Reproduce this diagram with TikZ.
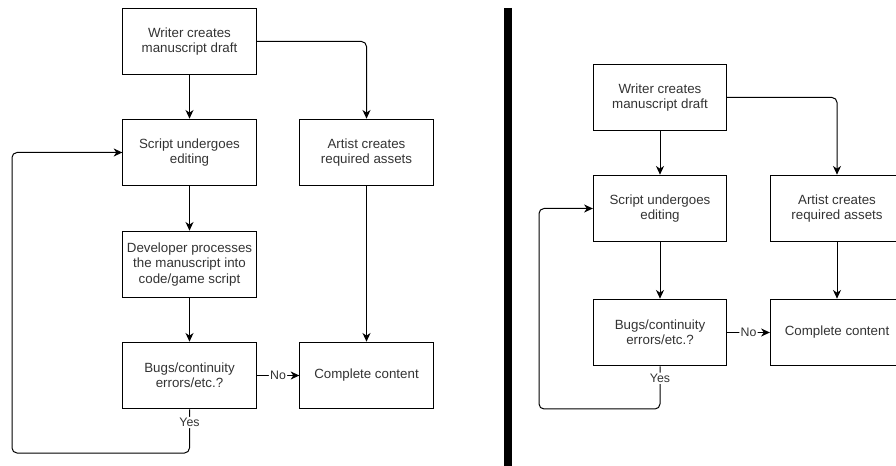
\documentclass[tikz,border=0pt]{standalone}
\usepackage{fontspec}
\setmainfont{Liberation Sans}
\usetikzlibrary{arrows.meta}
\tikzset{
  stage/.style={draw, line width=0.75pt, inner sep=0pt, minimum width=100pt, minimum height=50pt,
    align=center, text=black!80, font=\fontsize{10}{11.6}\selectfont},
  flow/.style={-{Stealth[length=6.5pt,width=6pt,inset=2pt]}, line width=0.75pt, rounded corners=3.75pt},
  lbl/.style={fill=white, inner sep=1pt, text=black!80, font=\fontsize{9.25}{10}\selectfont}
}
\def\dflow{\draw[flow]}

\begin{document}
\begin{tikzpicture}[x=0.75pt,y=-0.75pt]
                \useasboundingbox (0,0) rectangle (896,466);
                \clip (0,0) rectangle (896,466);
                % left chart
                \node[stage] (writer) at (189.5, 41.5) {Writer creates\\manuscript draft};
                \node[stage] (script) at (189.5,152.5) {Script undergoes\\editing};
                \node[stage] (dev)    at (189.5,264.5) {Developer processes\\the manuscript into\\code/game script};
                \node[stage] (bugs)   at (189.5,375.5) {Bugs/continuity\\errors/etc.?};
                \node[stage] (artist) at (366.5,152.5) {Artist creates\\required assets};
                \node[stage] (done)   at (366.5,375.5) {Complete content};
                \coordinate (loop) at (12,453);
                \dflow (writer) -- (script);
                \dflow (script) -- (dev);
                \dflow (dev) -- (bugs);
                \dflow (writer.east) -| (artist.north);
                \dflow (artist) -- (done);
                \dflow (bugs) -- node[lbl] {No} (done);
                \dflow (bugs.south) -- node[lbl,pos=0.3] {Yes} (bugs.south |- loop) -- (loop) |- (script.west);
                % divider
                \draw[line width=6pt] (508,8) -- (508,466);
                % right chart
                \node[stage] (rwriter) at (660, 97.5) {Writer creates\\manuscript draft};
                \node[stage] (rscript) at (660,208.5) {Script undergoes\\editing};
                \node[stage] (rbugs)   at (660,332.5) {Bugs/continuity\\errors/etc.?};
                \node[stage] (rartist) at (837,208.5) {Artist creates\\required assets};
                \node[stage] (rdone)   at (837,332.5) {Complete content};
                \coordinate (rloop) at (539,409);
                \dflow (rwriter) -- (rscript);
                \dflow (rscript) -- (rbugs);
                \dflow (rwriter.east) -| (rartist.north);
                \dflow (rartist) -- (rdone);
                \dflow (rbugs) -- node[lbl] {No} (rdone);
                \dflow (rbugs.south) -- node[lbl,pos=0.28] {Yes} (rbugs.south |- rloop) -- (rloop) |- (rscript.west);
            \end{tikzpicture}
\end{document}
